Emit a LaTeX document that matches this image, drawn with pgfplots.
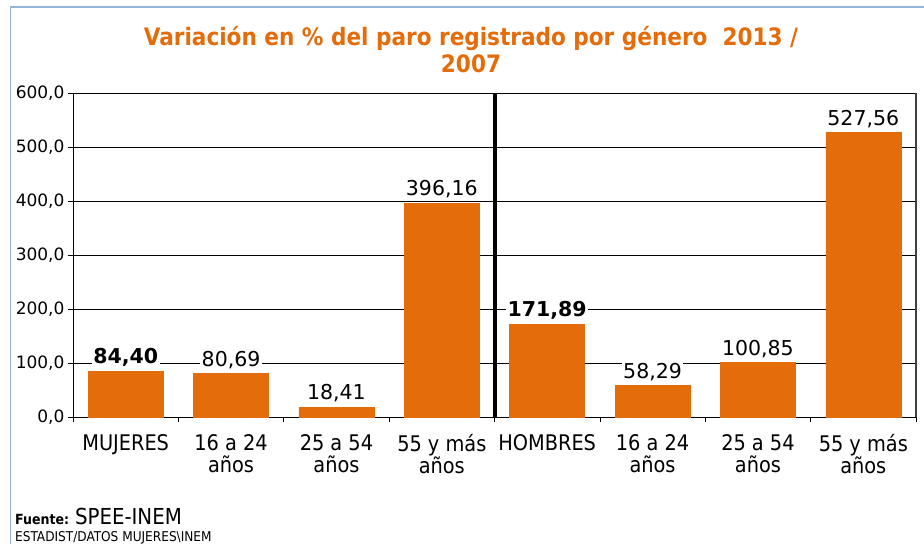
\documentclass[border=0pt]{standalone}
\usepackage{pgfplots}
\pgfplotsset{compat=1.18}
\usepackage{fontspec}
\setmainfont{DejaVu Sans}
\newfontfamily\condensed{DejaVu Sans Condensed}
\definecolor{barorange}{HTML}{E46C0A}
\definecolor{frameblue}{HTML}{95B3D7}
\begin{document}
\begin{tikzpicture}[x=1pt,y=1pt]
\path[use as bounding box] (0,0) rectangle (924,544);
% chart frame
\draw[frameblue,line width=1.5pt] (10.5,0) -- (10.5,537) -- (924,537);
\begin{axis}[
  at={(73pt,127pt)}, anchor=south west,
  scale only axis, width=843pt, height=324pt,
  ybar, bar width=75pt, bar shift=0pt,
  xmin=-0.5, xmax=7.5, ymin=0, ymax=600,
  xtick={0,...,7},
  xticklabels={MUJERES,16 a 24\\años,25 a 54\\años,55 y más\\años,HOMBRES,16 a 24\\años,25 a 54\\años,55 y más\\años},
  minor xtick={-0.5,0.5,...,7.5},
  major x tick style={draw=none},
  minor x tick style={black, line width=0.6pt},
  ytick={0,100,...,600},
  ymajorgrids, grid style={black, line width=0.6pt},
  tick align=outside, major tick length=5pt, minor tick length=5pt,
  y tick style={black, line width=0.6pt},
  axis x line*=bottom, axis y line*=left,
  axis line style={black, line width=0.8pt},
  xticklabel style={align=center, font=\condensed\fontsize{21.5}{22}\selectfont, yshift=-9pt},
  yticklabel style={font=\fontsize{17}{19}\selectfont, xshift=0pt},
  /pgf/number format/.cd, fixed, fixed zerofill, precision=1, use comma, assume math mode=true,
  /pgfplots/.cd,
  nodes near coords={\pgfmathprintnumber[fixed,fixed zerofill,precision=2,use comma,assume math mode=true]{\pgfplotspointmeta}},
  every node near coord/.append style={font=\fontsize{20.5}{23}\selectfont, fill=white, inner sep=1.5pt, anchor=south, yshift=3pt},
  clip=false,
]
\addplot[fill=barorange, draw=barorange] coordinates {(1,80.69) (2,18.41) (3,396.16) (5,58.29) (6,100.85) (7,527.56)};
\addplot[fill=barorange, draw=barorange, every node near coord/.append style={font=\bfseries\fontsize{20.5}{23}\selectfont}] coordinates {(0,84.40) (4,171.89)};
\draw[black, line width=4pt] (axis cs:3.5,0) -- (axis cs:3.5,600);
\draw[black!75, line width=2.5pt] (axis cs:7.5,0) -- (axis cs:7.5,600);
\end{axis}
% title
\node[text=barorange, font=\condensed\bfseries\fontsize{24}{27}\selectfont, align=center] at (471,494) {Variación en \% del paro registrado por género\ \ 2013 /\\2007};
% footer
\node[anchor=base west, inner sep=0pt] at (15,20) {\condensed\fontsize{14}{15}\selectfont\bfseries Fuente: \mdseries\fontsize{22}{24}\selectfont SPEE-INEM};
\node[anchor=base west, inner sep=0pt] at (15,3) {\condensed\fontsize{13.5}{15}\selectfont ESTADIST/DATOS MUJERES\textbackslash INEM};
\end{tikzpicture}
\end{document}
